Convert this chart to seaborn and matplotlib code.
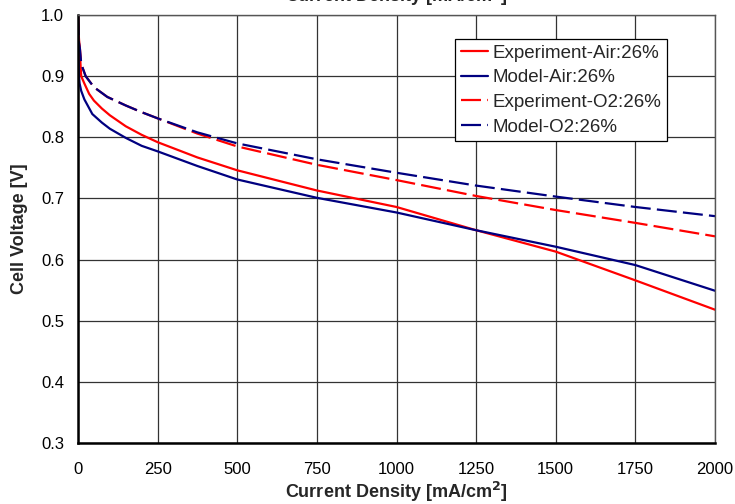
import matplotlib
matplotlib.use("Agg")
import matplotlib.pyplot as plt
import seaborn as sns
import pandas as pd

# Data
exp_air_x = [0, 2, 5, 10, 20, 35, 50, 75, 100, 150, 200, 250, 375, 500, 750, 1000, 1250, 1500, 1750, 2000]
exp_air_y = [1.0, 0.97, 0.945, 0.90, 0.888, 0.871, 0.860, 0.847, 0.836, 0.818, 0.804, 0.792, 0.767, 0.746, 0.713, 0.686, 0.648, 0.613, 0.566, 0.518]

mod_air_x = [0, 1, 3, 5, 10, 20, 45, 75, 100, 150, 200, 250, 375, 500, 750, 1000, 1250, 1500, 1750, 2000]
mod_air_y = [1.0, 0.96, 0.90, 0.888, 0.876, 0.862, 0.838, 0.824, 0.814, 0.799, 0.786, 0.777, 0.753, 0.731, 0.701, 0.677, 0.648, 0.621, 0.591, 0.549]

exp_o2_x = [0, 3, 6, 10, 24, 50, 92, 150, 200, 250, 375, 500, 750, 1000, 1250, 1500, 1750, 2000]
exp_o2_y = [1.0, 0.955, 0.945, 0.92, 0.90, 0.882, 0.866, 0.852, 0.841, 0.831, 0.806, 0.785, 0.755, 0.730, 0.704, 0.681, 0.660, 0.638]

mod_o2_x = [0, 3, 6, 10, 24, 50, 92, 150, 200, 250, 375, 500, 750, 1000, 1250, 1500, 1750, 2000]
mod_o2_y = [1.0, 0.955, 0.945, 0.92, 0.90, 0.882, 0.866, 0.852, 0.841, 0.831, 0.808, 0.790, 0.764, 0.742, 0.721, 0.703, 0.686, 0.671]

x_ticks = [0, 250, 500, 750, 1000, 1250, 1500, 1750, 2000]
y_ticks = [0.3, 0.4, 0.5, 0.6, 0.7, 0.8, 0.9, 1.0]

series = [
    ("Experiment-Air:26%", exp_air_x, exp_air_y, "#FF0000", "-"),
    ("Model-Air:26%", mod_air_x, mod_air_y, "#000080", "-"),
    ("Experiment-O2:26%", exp_o2_x, exp_o2_y, "#FF0000", "--"),
    ("Model-O2:26%", mod_o2_x, mod_o2_y, "#000080", "--"),
]

sns.set_style("white")
plt.rcParams['font.family'] = ['Liberation Sans', 'DejaVu Sans']

fig = plt.figure(figsize=(7.35, 5.04), dpi=100)
ax = fig.add_axes([78/735, 1-443/504, (715-78)/735, (443-15)/504])

for name, xs, ys, col, ls in series:
    df = pd.DataFrame({"x": xs, "y": ys})
    sns.lineplot(data=df, x="x", y="y", ax=ax, color=col, lw=1.6, label=name)
    l = ax.get_lines()[-1]
    if ls == "--":
        l.set_dashes((9, 2.8))

ax.set_xlim(0, 2000)
ax.set_ylim(0.3, 1.0)
ax.set_xticks(x_ticks)
ax.set_yticks(y_ticks)
ax.set_xticklabels([str(t) for t in x_ticks], fontsize=12)
ax.set_yticklabels([f"{t:.1f}" for t in y_ticks], fontsize=12)
ax.grid(True, color="#333333", lw=0.9)
ax.set_axisbelow(True)
ax.tick_params(axis="both", direction="out", length=5, width=1, colors="black")
ax.tick_params(axis="x", pad=9)
ax.tick_params(axis="y", pad=5)
for side in ["left", "bottom"]:
    ax.spines[side].set_color("black")
    ax.spines[side].set_linewidth(1.8)
for side in ["top", "right"]:
    ax.spines[side].set_color("#555555")
    ax.spines[side].set_linewidth(1.0)

ax.set_xlabel("Current Density [mA/cm$^\\mathbf{2}$]", fontsize=13, fontweight="bold", labelpad=2)
ax.set_ylabel("Cell Voltage [V]", fontsize=13, fontweight="bold", labelpad=9)
fig.text(396.5/735, 1-8/504, "Current Density [mA/cm$^\\mathbf{2}$]", fontsize=13,
         fontweight="bold", ha="center", va="bottom")

leg = ax.legend(loc="upper left", bbox_to_anchor=((455-78)/637, (443-39)/428), fontsize=13.5,
                frameon=True, fancybox=False, edgecolor="black", framealpha=1,
                handlelength=1.45, handletextpad=0.25, borderpad=0.3, labelspacing=0.4,
                borderaxespad=0)
leg.get_frame().set_linewidth(0.9)

fig.savefig("out.png", dpi=100)
